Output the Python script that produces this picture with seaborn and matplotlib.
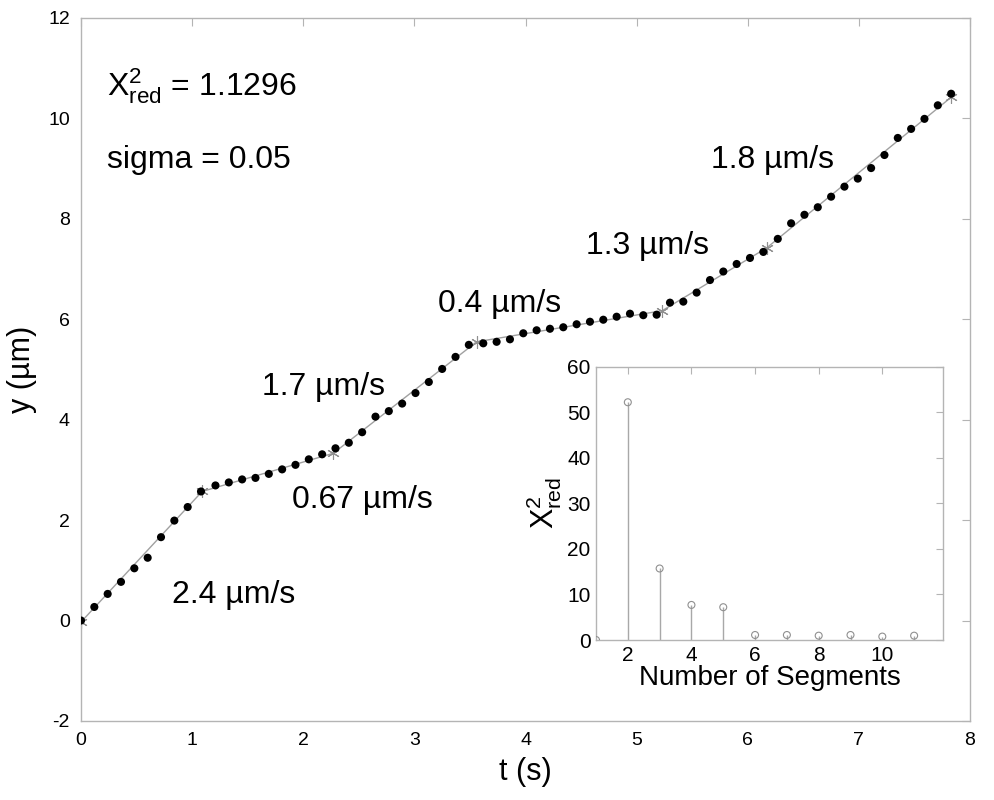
import numpy as np
import pandas as pd
import matplotlib
matplotlib.use('Agg')
import matplotlib.pyplot as plt
import seaborn as sns

# %%

# Measured trajectory (time in s, position in um)

t = [0.00, 0.12, 0.24, 0.36, 0.48, 0.60, 0.72, 0.84, 0.96, 1.08,
     1.21, 1.33, 1.45, 1.57, 1.69, 1.81, 1.93, 2.05, 2.17, 2.29,
     2.41, 2.53, 2.65, 2.77, 2.89, 3.01, 3.13, 3.25, 3.37, 3.49,
     3.62, 3.74, 3.86, 3.98, 4.10, 4.22, 4.34, 4.46, 4.58, 4.70,
     4.82, 4.94, 5.06, 5.18, 5.30, 5.42, 5.54, 5.66, 5.78, 5.90,
     6.02, 6.14, 6.27, 6.39, 6.51, 6.63, 6.75, 6.87, 6.99, 7.11,
     7.23, 7.35, 7.47, 7.59, 7.71, 7.83]

y = [0.00, 0.27, 0.53, 0.77, 1.04, 1.25, 1.66, 1.99, 2.26, 2.57,
     2.69, 2.75, 2.81, 2.84, 2.92, 3.01, 3.10, 3.21, 3.31, 3.43,
     3.54, 3.75, 4.06, 4.17, 4.32, 4.53, 4.75, 5.01, 5.25, 5.49,
     5.52, 5.55, 5.60, 5.72, 5.78, 5.81, 5.84, 5.90, 5.95, 5.99,
     6.05, 6.11, 6.08, 6.09, 6.33, 6.35, 6.53, 6.78, 6.95, 7.10,
     7.22, 7.34, 7.60, 7.91, 8.08, 8.23, 8.44, 8.64, 8.80, 9.01,
     9.27, 9.61, 9.79, 9.99, 10.26, 10.49]

# Breakpoints of the piecewise linear fit

bp_t = [0.00, 1.09, 2.27, 3.56, 5.23, 6.17, 7.83]
bp_y = [-0.03, 2.57, 3.33, 5.55, 6.17, 7.42, 10.42]

# Velocity labels: text, t, y

vel_labels = ['2.4 µm/s', '0.67 µm/s', '1.7 µm/s', '0.4 µm/s',
              '1.3 µm/s', '1.8 µm/s']
vel_t = [0.82, 1.90, 1.63, 3.21, 4.54, 5.67]
vel_y = [0.51, 2.40, 4.65, 6.30, 7.46, 9.18]

# Reduced chi-square vs number of segments (inset)

n_segments = [1, 2, 3, 4, 5, 6, 7, 8, 9, 10, 11]
chi2_red = [0.0, 52.2, 15.7, 7.7, 7.2, 1.1, 1.1, 0.95, 1.1, 0.75, 0.95]

# %%

sns.set_theme(style='white')
plt.rcParams['font.family'] = ['Liberation Sans', 'DejaVu Sans']
plt.rcParams['mathtext.fontset'] = 'custom'
plt.rcParams['mathtext.rm'] = 'Liberation Sans'
plt.rcParams['mathtext.it'] = 'Liberation Sans'
plt.rcParams['axes.unicode_minus'] = False
plt.rcParams['text.color'] = 'black'
plt.rcParams['axes.labelcolor'] = 'black'

spine_col = '#b4b4b4'

df = pd.DataFrame({'t': t, 'y': y})
fit = pd.DataFrame({'t': bp_t, 'y': bp_y})

fig = plt.figure(figsize=(9.95, 8), dpi=100)
ax = fig.add_axes([0.0814, 0.0988, 0.8935, 0.8788])

sns.lineplot(data=fit, x='t', y='y', ax=ax, color='#a0a0a0', lw=1,
             marker=(6, 2, 0), markersize=9, markeredgecolor='#909090',
             markeredgewidth=0.8)
sns.scatterplot(data=df, x='t', y='y', ax=ax, color='black', s=34,
                edgecolor='none', zorder=3)

ax.set_xlim(0, 8)
ax.set_ylim(-2, 12)
ax.set_xticks(range(0, 9))
ax.set_yticks(range(-2, 13, 2))
ax.set_xlabel('t (s)', fontsize=22, labelpad=6)
ax.set_ylabel('y (µm)', fontsize=22, labelpad=8)
ax.tick_params(direction='in', length=6, width=0.8, color=spine_col,
               labelcolor='black', top=True, right=True, labelsize=14,
               pad=8)
for s in ax.spines.values():
    s.set_color(spine_col)
    s.set_linewidth(1)

for lab, tx, ty in zip(vel_labels, vel_t, vel_y):
    ax.text(tx, ty, lab, fontsize=23, ha='left', va='center')

ax.text(0.23, 10.65, r'$\mathregular{X^2_{red}}$ = 1.1296', fontsize=23,
        ha='left', va='center')
ax.text(0.23, 9.18, 'sigma = 0.05', fontsize=23, ha='left', va='center')

# %%

# Inset: chi-square against number of segments

ins = fig.add_axes([0.599, 0.2, 0.3485, 0.3416])
ins.vlines(n_segments, 0, chi2_red, color='#a8a8a8', lw=1)
sns.scatterplot(x=n_segments, y=chi2_red, ax=ins, facecolor='none',
                edgecolor='#909090', linewidth=0.8, s=25, zorder=3)
ins.set_xlim(1, 11.9)
ins.set_ylim(0, 60)
ins.set_xticks([2, 4, 6, 8, 10])
ins.set_yticks(range(0, 61, 10))
ins.set_xlabel('Number of Segments', fontsize=20, labelpad=0)
ins.set_ylabel(r'$\mathregular{X^2_{red}}$', fontsize=22, labelpad=2)
ins.tick_params(direction='in', length=5, width=0.8, color=spine_col,
                labelcolor='black', top=True, right=True, labelsize=15,
                pad=4)
for s in ins.spines.values():
    s.set_color(spine_col)
    s.set_linewidth(1)

fig.savefig('out.png', dpi=100)
